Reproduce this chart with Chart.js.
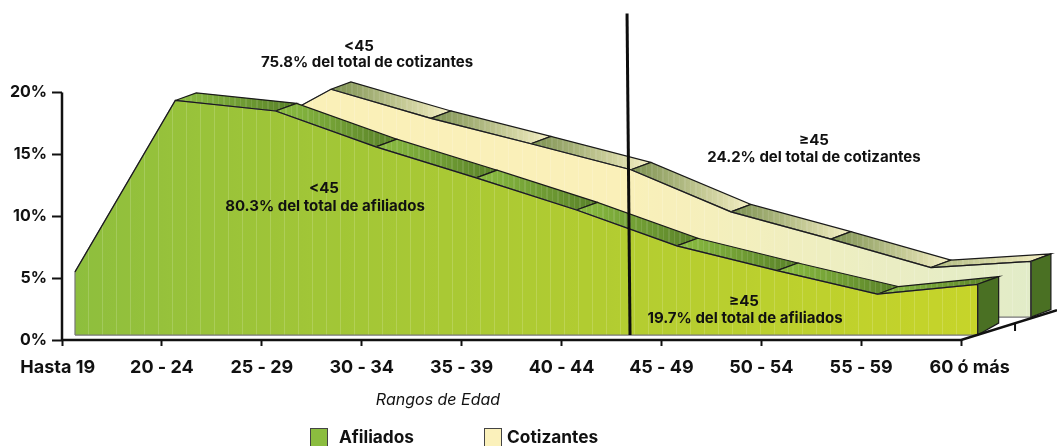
<!DOCTYPE html>
<html>
<head>
<meta charset="utf-8">
<title>Rangos de Edad</title>
<script src="https://cdn.jsdelivr.net/npm/chart.js@4"></script>
<style>
  html, body { margin: 0; padding: 0; background: #fff; overflow: hidden; }
  canvas { display: block; }
</style>
</head>
<body>
<canvas id="chart" width="1057" height="446"></canvas>
<script>
// Values
const ageLabels = ["Hasta 19", "20 - 24", "25 - 29", "30 - 34", "35 - 39", "40 - 44", "45 - 49", "50 - 54", "55 - 59", "60 ó más"];
const yTicks = [0, 5, 10, 15, 20];
const afiliados = [5.1, 18.95, 18.1, 15.2, 12.7, 10.1, 7.2, 5.2, 3.3, 4.1];
const cotizantes = [2.4, 14.0, 18.4, 16.05, 14.0, 11.9, 8.5, 6.3, 4.0, 4.5];
const dividerX = [5.656, 5.686];
const dividerY = [26.37, 0.4];

// Fake 3D depth, in axis units
const FRONT = { dx: 0.13, stretch: 0.004, base: 0.4, topDx: 0.21, topDy: 0.62, sideDy: 0.97 };
const BACK = { dx: 0.69, stretch: 0.001, base: 1.855, topDx: 0.2, topDy: 0.6, sideDy: 0.6 };
const FLOOR_END = { x: 9.96, y: 2.4 };
const FONT = "Inter, 'Open Sans', sans-serif";

function mix2(a, b, t) { return a.map((v, i) => v + (b[i] - v) * t); }
function rgb(c) { return "rgb(" + c.map(Math.round).join(",") + ")"; }
const linear = (t) => t;
const frontEase = (t) => Math.pow(t, 0.8);
const backEase = (t) => t < 0.55 ? t * 0.1 : 0.055 + (t - 0.55) / 0.45 * 0.945; // stays yellow up to the divider

// Horizontal gradient with thin pale stripes, the way the original is banded
function banded(from, to, x0, x1, stripeAt, stripeGain, step, ease) {
  const at = (t) => mix2(from, to, ease(t));
  return (ctx) => {
    const sx = ctx.chart.scales.x;
    const p0 = sx ? sx.getPixelForValue(x0) : NaN, p1 = sx ? sx.getPixelForValue(x1) : NaN;
    if (!isFinite(p0) || !isFinite(p1)) return rgb(at(0.5)); // before layout
    const g = ctx.chart.ctx.createLinearGradient(p0, 0, p1, 0);
    const w = p1 - p0;
    for (let px = 0; px < w; px += step) {
      const a = px / w, b = Math.min(1, (px + stripeAt) / w), c = Math.min(1, (px + stripeAt + 0.01) / w), d = Math.min(1, (px + step - 0.01) / w);
      g.addColorStop(a, rgb(at(a)));
      g.addColorStop(b, rgb(at(b)));
      g.addColorStop(c, rgb(mix2(at(c), [255, 255, 255], stripeGain)));
      g.addColorStop(d, rgb(mix2(at(c), [255, 255, 255], stripeGain)));
    }
    return g;
  };
}

const datasets = [];
function shape(points, fill, line, width) {
  datasets.push({
    data: points.map(([x, y]) => ({ x, y })),
    backgroundColor: fill || "transparent",
    borderColor: line || "#1a1a1a",
    borderWidth: width === undefined ? 1.2 : width,
    fill: fill ? "shape" : false,
    pointRadius: 0,
    tension: 0,
    clip: false,
    borderJoinStyle: "miter",
  });
}

function addSolid(values, geo, plane, ease, tops, side, firstTop) {
  const xs = values.map((_, i) => i * (1 + geo.stretch) + geo.dx);
  const ys = values.map((v) => v + geo.base);
  const last = values.length - 1;
  for (let i = firstTop; i < last; i++) {
    const t = tops(i);
    shape([[xs[i], ys[i]], [xs[i + 1], ys[i + 1]], [xs[i + 1] + geo.topDx, ys[i + 1] + geo.topDy], [xs[i] + geo.topDx, ys[i] + geo.topDy], [xs[i], ys[i]]],
      banded(t[0], t[1], xs[i], xs[i + 1] + geo.topDx, 4, 0.1, 5.5, linear));
  }
  shape([[xs[last], ys[last]], [xs[last] + geo.topDx, ys[last] + geo.topDy], [xs[last] + geo.topDx, geo.base + geo.sideDy], [xs[last], geo.base], [xs[last], ys[last]]], side);
  const outline = [[xs[0], geo.base]].concat(xs.map((x, i) => [x, ys[i]]), [[xs[last], geo.base], [xs[0], geo.base]]);
  shape(outline, banded(plane[0], plane[1], xs[0], xs[last], 13, 0.16, 14, ease), "#777");
  shape(xs.map((x, i) => [x, ys[i]]).concat([[xs[last], geo.base]]));
}

addSolid(cotizantes, BACK, [[251, 240, 184], [226, 236, 200]], backEase, (i) => i === 8 ? [[176, 186, 128], [246, 240, 196]] : [[122, 143, 78], [246, 240, 196]], "#4a7023", 2);
addSolid(afiliados, FRONT, [[141, 190, 62], [198, 212, 42]], frontEase, () => [[140, 190, 66], [88, 128, 40]], "#4a7023", 1);

// Axis lines and floor, drawn from the same scales
shape([[0, 0], [0, yTicks[yTicks.length - 1]]], null, "#111", 2.5);
shape([[0, 0], [ageLabels.length - 1, 0], [FLOOR_END.x, FLOOR_END.y]], null, "#111", 2.5);
shape([[9.54, 1.37], [9.54, 0.73]], null, "#111", 2);
shape(dividerX.map((x, i) => [x, dividerY[i]]), null, "#0d0d0d", 3);
datasets.forEach((d, i) => { d.order = -i; });

const notes = [
  { lines: ["<45", "75.8% del total de cotizantes"], xs: [359, 367], ys: [46, 62] },
  { lines: ["≥45", "24.2% del total de cotizantes"], xs: [814, 814], ys: [140, 157] },
  { lines: ["<45", "80.3% del total de afiliados"], xs: [324, 325], ys: [188, 206] },
  { lines: ["≥45", "19.7% del total de afiliados"], xs: [744, 745], ys: [301, 318] },
];

const textPlugin = {
  id: "chartText",
  afterDraw(chart) {
    const c = chart.ctx;
    c.save();
    c.fillStyle = "#111";
    c.textBaseline = "middle";
    c.textAlign = "center";
    c.font = "700 15px " + FONT;
    notes.forEach((n) => n.lines.forEach((t, i) => c.fillText(t, n.xs[i], n.ys[i])));
    c.font = "italic 400 16px " + FONT;
    c.fillText("Rangos de Edad", 438, 400);
    // legend
    c.textAlign = "left";
    c.font = "700 17.3px " + FONT;
    c.strokeStyle = "#444";
    c.lineWidth = 1;
    [["Afiliados", "#8bbd3f", 310, 339], ["Cotizantes", "#fbf1bb", 484, 507]].forEach(([t, col, sx, tx]) => {
      c.fillStyle = col;
      c.fillRect(sx + 0.5, 428.5, 17, 19);
      c.strokeRect(sx + 0.5, 428.5, 17, 19);
      c.fillStyle = "#111";
      c.fillText(t, tx, 438);
    });
    c.restore();
  },
};

new Chart(document.getElementById("chart"), {
  type: "line",
  data: { datasets },
  plugins: [textPlugin],
  options: {
    responsive: false,
    animation: false,
    layout: { padding: { top: 6, left: 0, right: 0, bottom: 0 } },
    plugins: { legend: { display: false }, tooltip: { enabled: false } },
    scales: {
      x: {
        type: "linear",
        min: 0,
        max: 9.96,
        afterBuildTicks: (s) => { s.ticks = ageLabels.map((_, i) => ({ value: i })); },
        afterFit: (s) => { s.height = 106; },
        border: { display: false },
        grid: { drawOnChartArea: false, drawTicks: true, tickLength: 6, tickColor: "#111", tickWidth: 2 },
        ticks: {
          autoSkip: false,
          maxRotation: 0,
          padding: 11,
          color: "#111",
          font: { family: FONT, weight: "700", size: 18 },
          // the two end labels sit off their ticks in the original
          callback: (v) => v === 0 ? ageLabels[v] + "\u00a0\u00a0" : v === 9 ? "\u00a0\u00a0\u00a0\u00a0" + ageLabels[v] : ageLabels[v],
        },
      },
      y: {
        type: "linear",
        min: 0,
        max: 26.29,
        afterBuildTicks: (s) => { s.ticks = yTicks.map((value) => ({ value })); },
        afterFit: (s) => { s.width = 62; },
        border: { display: false },
        grid: { drawOnChartArea: false, drawTicks: true, tickLength: 10, tickColor: "#111", tickWidth: 2 },
        ticks: {
          padding: 5,
          color: "#111",
          font: { family: FONT, weight: "700", size: 16 },
          callback: (v) => v + "%",
        },
      },
    },
  },
});
</script>
</body>
</html>
